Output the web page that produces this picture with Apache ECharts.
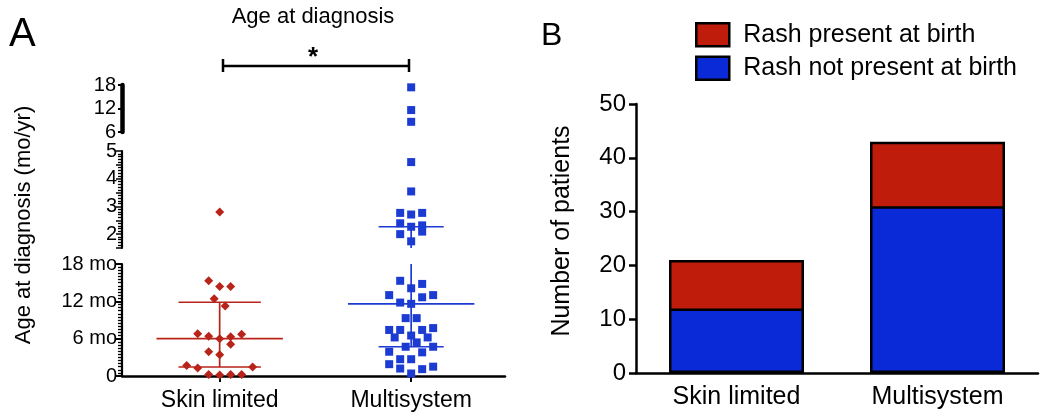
<!DOCTYPE html>
<html><head><meta charset="utf-8">
<script src="https://cdn.jsdelivr.net/npm/echarts@6/dist/echarts.min.js"></script>
<style>html,body{margin:0;padding:0;background:#fff}#c{width:1050px;height:418px}</style>
</head><body><div id="c"></div>
<script>
// ---------- Panel A data (ages in months) ----------
const groupsA = ['Skin limited', 'Multisystem'];
const skinAges = [33.6, 15.3, 14.4, 14.4, 12.4, 11.25, 6.8, 6.4, 6.0, 6.3, 6.7, 5.1, 3.9, 3.4, 1.7, 1.3, 1.45, 0.25, 0.15, 0.25, 0.25];
const skinCols = [0, -2, 0, 2, -1, 1, -4, -2, 0, 2, 4, 2, -2, 0, -6, -4, 6, -2, 0, 2, 4];
const multiAges = [208.8, 139.2, 103.2,
  55.2, 42.5, 33.2, 32.5, 33.2, 28.7, 27.2, 27.8, 25.1, 24.0, 20.9,
  15.3, 14.1, 14.8, 13.0, 12.65, 13.0, 11.8, 11.6, 9.3, 9.3, 7.4, 7.4, 7.4, 7.7, 6.2, 6.5, 6.2, 5.4, 4.7, 3.9, 3.8, 4.7, 1.9, 2.7, 2.7, 1.2, 1.1, 1.5, 0.4];
const multiCols = [0, 0, 0,
  0, 0, -2, 0, 2, -2, 0, 2, 2, -2, 0,
  -2, 0, 2, -4, 2, 4, -2, 0, -1, 1, -4, -2, 2, 4, -3, 0, 3, 1, -1, -4, 2, 4, -4, -2, 0, -2, 2, 4, 0];
// median, lower quartile, upper quartile (months)
const skinStats = [6.0, 1.45, 11.85];
const multiStats = [11.6, 4.7, 27.2];
const topTicks = [6, 12, 18];      // years
const midTicks = [2, 3, 4, 5];     // years
const lowTicks = [0, 6, 12, 18];   // months

// ---------- Panel B data ----------
const categoriesB = ['Skin limited', 'Multisystem'];
const rashPresent = [9, 12];
const rashNotPresent = [12, 31];
const legendB = ['Rash present at birth', 'Rash not present at birth'];

// ---------- styles ----------
const RED = '#b8241a', BLUE = '#1c3bd2';
const BAR_RED = '#bf1c0c', BAR_BLUE = '#0a2ad8';
const FONT = "'Liberation Sans', Arial, sans-serif";
const COL_STEP = 0.0287;
const MED_HALF = 0.33;
const CAP_HALF = [0.215, 0.17];
const groupColors = [RED, BLUE];

const segs = [
  {lo: 72, hi: 216, div: 12},   // top, years
  {lo: 18, hi: 60, div: 12},    // middle, years
  {lo: 0, hi: 18, div: 1}       // bottom, months
];
const inSeg = (s, v) => s === 0 ? v >= 72 : (s === 1 ? (v > 18 && v <= 60) : v <= 18);

function pts(ages, cols, grp, s) {
  const out = [];
  ages.forEach((v, i) => { if (inSeg(s, v)) out.push([grp + cols[i] * COL_STEP, v / segs[s].div]); });
  return out;
}
const statRows = [[1].concat(skinStats), [2].concat(multiStats)];

function statSeries(s) {
  const seg = segs[s];
  return {
    type: 'custom', xAxisIndex: s, yAxisIndex: s, z: 5, silent: true,
    data: statRows, encode: {x: 0, y: 1},
    renderItem: (params, api) => {
      const g = api.value(0), med = api.value(1), q1 = api.value(2), q3 = api.value(3);
      const color = groupColors[params.dataIndex];
      const cap = CAP_HALF[params.dataIndex];
      const ch = [];
      const st = {stroke: color, lineWidth: 1.7};
      const h = (v, half) => {
        if (v >= seg.lo && v <= seg.hi) {
          const a = api.coord([g - half, v / seg.div]), b = api.coord([g + half, v / seg.div]);
          ch.push({type: 'line', shape: {x1: a[0], y1: a[1], x2: b[0], y2: b[1]}, style: st});
        }
      };
      h(med, MED_HALF); h(q1, cap); h(q3, cap);
      const v1 = Math.max(q1, seg.lo), v2 = Math.min(q3, seg.hi);
      if (v1 < v2) {
        const a = api.coord([g, v1 / seg.div]), b = api.coord([g, v2 / seg.div]);
        ch.push({type: 'line', shape: {x1: a[0], y1: a[1], x2: b[0], y2: b[1]}, style: st});
      }
      return {type: 'group', children: ch};
    }
  };
}

const gridsA = [
  {left: 122, width: 383, top: 85, height: 47},
  {left: 122, width: 383, top: 151, height: 97},
  {left: 122, width: 383, top: 264, height: 112}
];
const xA = [0, 1, 2].map(i => ({
  type: 'value', gridIndex: i, min: 0.49, max: 2.49,
  show: i === 2,
  splitLine: {show: false},
  axisLine: {show: i === 2, lineStyle: {color: '#000', width: 2.5}},
  axisTick: {show: i === 2, customValues: [1, 2], length: 6, lineStyle: {color: '#000', width: 2}},
  axisLabel: {show: i === 2, customValues: [1, 2], formatter: v => groupsA[Math.round(v) - 1] || '',
    color: '#000', fontSize: 23, fontFamily: FONT, margin: 13}
}));
const yBase = {
  type: 'value', splitLine: {show: false},
  axisLine: {show: true, lineStyle: {color: '#000', width: 2.2}},
  axisTick: {show: true, length: 6, lineStyle: {color: '#000', width: 2}},
  axisLabel: {color: '#000', fontSize: 20, fontFamily: FONT, margin: 5}
};
const yA = [
  Object.assign({}, yBase, {gridIndex: 0, min: topTicks[0], max: topTicks[2], interval: 6,
    axisLine: {show: true, lineStyle: {color: '#000', width: 4.5}},
    axisTick: {show: true, length: 4, lineStyle: {color: '#000', width: 2}},
    axisLabel: Object.assign({}, yBase.axisLabel, {margin: 6})}),
  Object.assign({}, yBase, {gridIndex: 1, min: 1.5, max: midTicks[3], interval: 0.5,
    axisTick: {show: true, length: 6, lineStyle: {color: '#000', width: 1.5}},
    minorTick: {show: true, splitNumber: 5, length: 4, lineStyle: {color: '#000', width: 1.3}},
    axisLabel: Object.assign({}, yBase.axisLabel, {formatter: v => midTicks.indexOf(v) >= 0 ? String(v) : ''})}),
  Object.assign({}, yBase, {gridIndex: 2, min: lowTicks[0], max: lowTicks[3], interval: 6,
    minorTick: {show: true, splitNumber: 12, length: 4, lineStyle: {color: '#000', width: 1.3}},
    axisLabel: Object.assign({}, yBase.axisLabel, {formatter: v => v === 0 ? '0' : v + ' mo'})})
];

const scatterA = [];
[0, 1, 2].forEach(s => {
  scatterA.push({type: 'scatter', xAxisIndex: s, yAxisIndex: s, symbol: 'diamond', symbolSize: 9,
    itemStyle: {color: RED, opacity: 1}, data: pts(skinAges, skinCols, 1, s), silent: true});
  scatterA.push({type: 'scatter', xAxisIndex: s, yAxisIndex: s, symbol: 'rect', symbolSize: 8,
    itemStyle: {color: BLUE, opacity: 1}, data: pts(multiAges, multiCols, 2, s), silent: true});
  scatterA.push(statSeries(s));
});

// total bar height (present + not present), blue part overlaid on it
const totalsB = rashPresent.map((v, i) => v + rashNotPresent[i]);

const option = {
  animation: false,
  backgroundColor: '#fff',
  textStyle: {fontFamily: FONT},
  grid: gridsA.concat([{left: 636, width: 402, top: 104, height: 269}]),
  xAxis: xA.concat([{
    type: 'category', gridIndex: 3, data: categoriesB,
    axisLine: {lineStyle: {color: '#000', width: 2.5}},
    axisTick: {alignWithLabel: true, length: 7, lineStyle: {color: '#000', width: 2.5}},
    axisLabel: {color: '#000', fontSize: 25, fontFamily: FONT, margin: 12}
  }]),
  yAxis: yA.concat([{
    type: 'value', gridIndex: 3, min: 0, max: 50, interval: 10,
    splitLine: {show: false},
    axisLine: {show: true, lineStyle: {color: '#000', width: 2.5}},
    axisTick: {show: true, length: 7, lineStyle: {color: '#000', width: 2.5}},
    axisLabel: {color: '#000', fontSize: 24, fontFamily: FONT, margin: 10}
  }]),
  legend: {
    data: legendB, orient: 'vertical', left: 695, top: 22, padding: 0, itemWidth: 33, itemHeight: 23, itemGap: 8,
    icon: 'rect', selectedMode: false,
    itemStyle: {borderColor: '#000', borderWidth: 2.5},
    textStyle: {color: '#000', fontSize: 25, fontFamily: FONT, padding: [0, 0, 0, 9]}
  },
  series: scatterA.concat([
    {name: legendB[0], type: 'bar', xAxisIndex: 3, yAxisIndex: 3, barWidth: 135, data: totalsB,
      itemStyle: {color: BAR_RED, borderColor: '#000', borderWidth: 2.5}},
    {name: legendB[1], type: 'bar', xAxisIndex: 3, yAxisIndex: 3, barWidth: 135, barGap: '-100%', data: rashNotPresent,
      itemStyle: {color: BAR_BLUE, borderColor: '#000', borderWidth: 2.5}}
  ]),
  graphic: [
    {type: 'text', x: 9, y: 35, style: {text: 'A', font: '40px ' + FONT, fill: '#000', verticalAlign: 'middle', textVerticalAlign: 'middle'}},
    {type: 'text', x: 541, y: 36, style: {text: 'B', font: '32px ' + FONT, fill: '#000', verticalAlign: 'middle', textVerticalAlign: 'middle'}},
    {type: 'text', x: 313, y: 17, style: {text: 'Age at diagnosis', font: '22px ' + FONT, fill: '#000',
      align: 'center', textAlign: 'center', verticalAlign: 'middle', textVerticalAlign: 'middle'}},
    {type: 'text', x: 313, y: 58, style: {text: '*', font: 'bold 26px ' + FONT, fill: '#000',
      align: 'center', textAlign: 'center', verticalAlign: 'middle', textVerticalAlign: 'middle'}},
    {type: 'line', shape: {x1: 223, y1: 66, x2: 409, y2: 66}, style: {stroke: '#000', lineWidth: 2.5}},
    {type: 'line', shape: {x1: 223, y1: 59, x2: 223, y2: 72}, style: {stroke: '#000', lineWidth: 2.5}},
    {type: 'line', shape: {x1: 409, y1: 59, x2: 409, y2: 72}, style: {stroke: '#000', lineWidth: 2.5}},
    {type: 'text', x: 24, y: 225, rotation: Math.PI / 2, style: {text: 'Age at diagnosis (mo/yr)', font: '22px ' + FONT, fill: '#000',
      align: 'center', textAlign: 'center', verticalAlign: 'middle', textVerticalAlign: 'middle'}},
    {type: 'text', x: 562, y: 231, rotation: Math.PI / 2, style: {text: 'Number of patients', font: '25px ' + FONT, fill: '#000',
      align: 'center', textAlign: 'center', verticalAlign: 'middle', textVerticalAlign: 'middle'}}
  ]
};
echarts.init(document.getElementById('c')).setOption(option);
</script>
</body></html>
